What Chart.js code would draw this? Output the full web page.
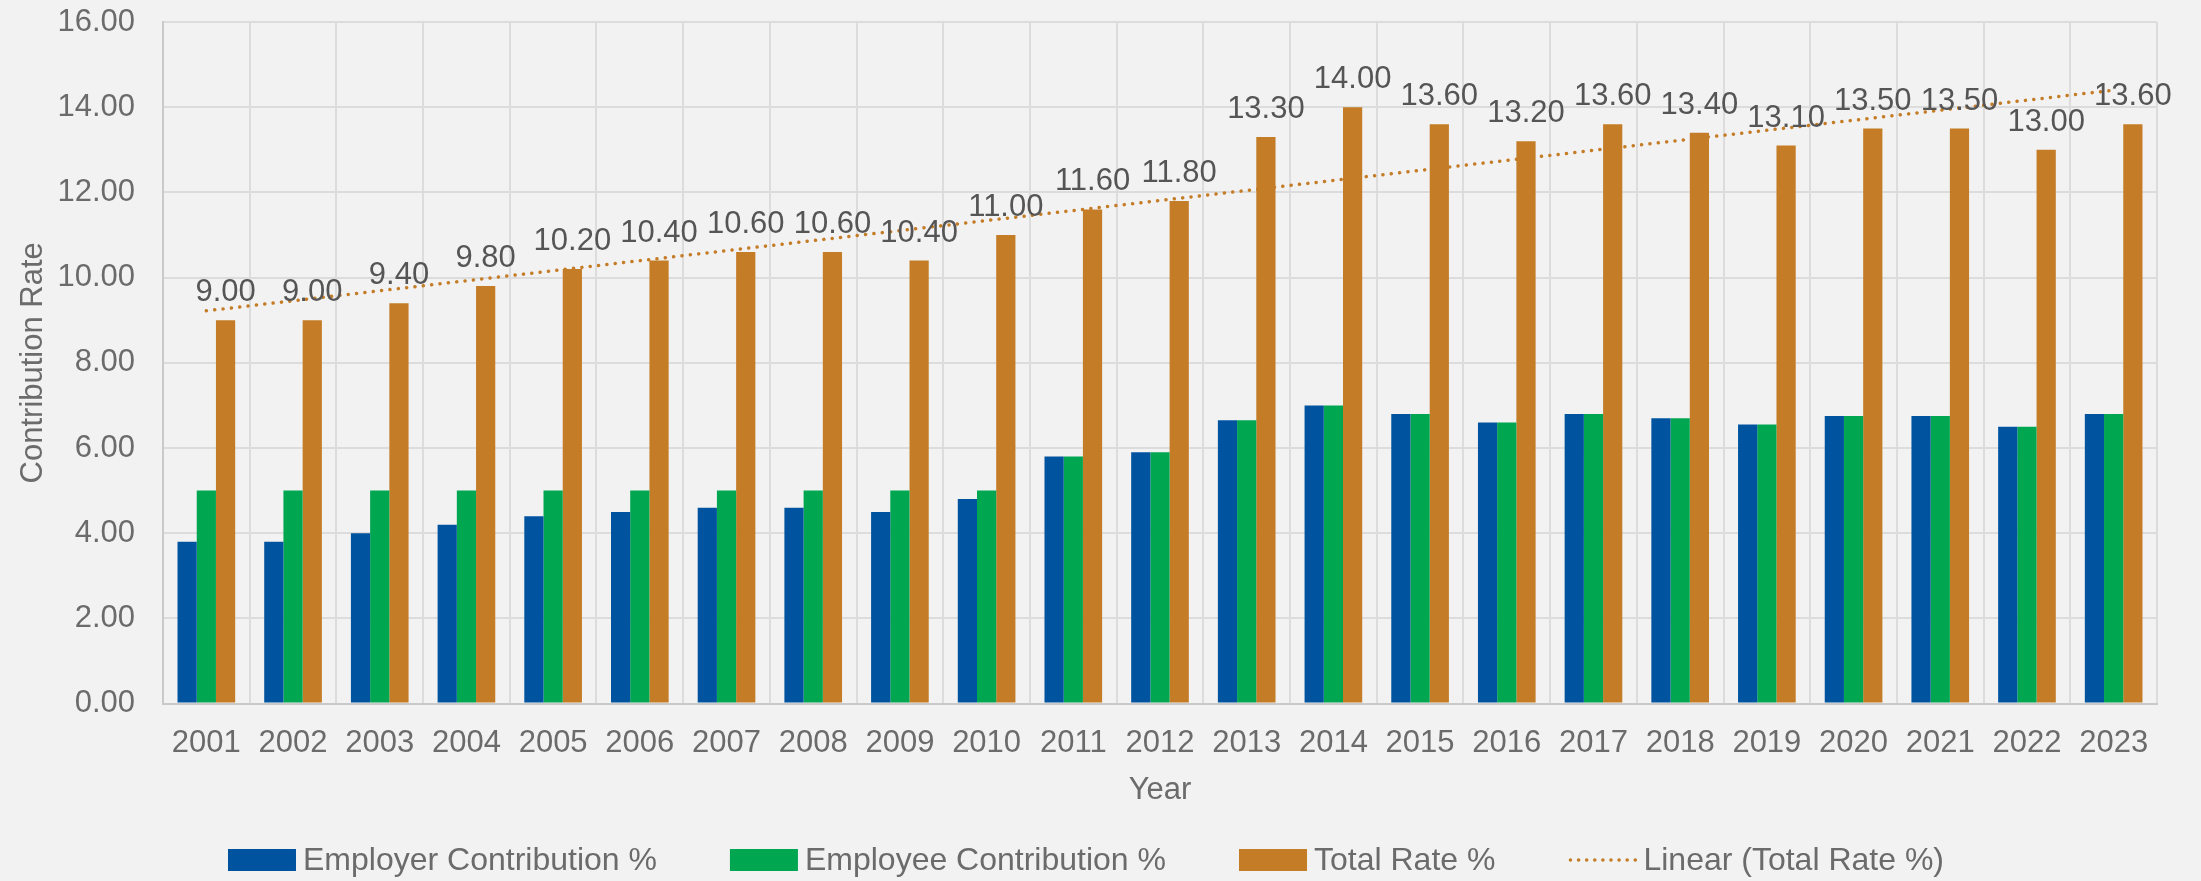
<!DOCTYPE html>
<html>
<head>
<meta charset="utf-8">
<script src="https://cdn.jsdelivr.net/npm/chart.js@4.4.1/dist/chart.umd.min.js"></script>
<style>
    html, body { margin: 0; padding: 0; background: #f2f2f2; }
    #chart { display: block; }
</style>
</head>
<body>
<canvas id="chart" width="2201" height="881"></canvas>
<script>
// 数据
const years = ['2001', '2002', '2003', '2004', '2005', '2006', '2007', '2008', '2009', '2010', '2011', '2012',
    '2013', '2014', '2015', '2016', '2017', '2018', '2019', '2020', '2021', '2022', '2023'];
const employerRate = [3.8, 3.8, 4.0, 4.2, 4.4, 4.5, 4.6, 4.6, 4.5, 4.8, 5.8, 5.9,
    6.65, 7.0, 6.8, 6.6, 6.8, 6.7, 6.55, 6.75, 6.75, 6.5, 6.8];
const employeeRate = [5.0, 5.0, 5.0, 5.0, 5.0, 5.0, 5.0, 5.0, 5.0, 5.0, 5.8, 5.9,
    6.65, 7.0, 6.8, 6.6, 6.8, 6.7, 6.55, 6.75, 6.75, 6.5, 6.8];
const totalRate = [9.0, 9.0, 9.4, 9.8, 10.2, 10.4, 10.6, 10.6, 10.4, 11.0, 11.6, 11.8,
    13.3, 14.0, 13.6, 13.2, 13.6, 13.4, 13.1, 13.5, 13.5, 13.0, 13.6];
// 趋势线两端
const trendStart = 9.22;
const trendEnd = 14.40;
const yMin = 0, yMax = 16, yStep = 2;

const FONT = "'Liberation Sans', Arial, sans-serif";
const TEXT = '#6b6b6b';
const LABEL = '#555555';
const BLUE = '#00549f';
const GREEN = '#00a650';
const ORANGE = '#c47c26';

const trendData = years.map((_, i) => i === 0 ? trendStart : (i === years.length - 1 ? trendEnd : null));

// 总费率柱顶标签
const totalLabels = {
    id: 'totalLabels',
    afterDatasetsDraw(chart) {
        const meta = chart.getDatasetMeta(2);
        const ctx = chart.ctx;
        ctx.save();
        ctx.font = `31px ${FONT}`;
        ctx.fillStyle = LABEL;
        ctx.textAlign = 'center';
        ctx.textBaseline = 'alphabetic';
        meta.data.forEach((bar, i) => {
            ctx.fillText(totalRate[i].toFixed(2), bar.x, bar.y - 19);
        });
        ctx.restore();
    }
};

// 底部图例
const bottomLegend = {
    id: 'bottomLegend',
    afterDraw(chart) {
        const ctx = chart.ctx;
        ctx.save();
        ctx.font = `32px ${FONT}`;
        ctx.textBaseline = 'middle';
        const boxW = 68, boxH = 22, textGap = 7, itemGap = 73;
        const items = chart.data.datasets.map(ds => ({
            text: ds.label,
            color: ds.type === 'line' ? ds.borderColor : ds.backgroundColor,
            line: ds.type === 'line',
            width: boxW + textGap + ctx.measureText(ds.label).width
        }));
        const total = items.reduce((s, it) => s + it.width, 0) + itemGap * (items.length - 1);
        let x = 1086 - total / 2;
        const y = 860;
        items.forEach(it => {
            if (it.line) {
                ctx.strokeStyle = it.color;
                ctx.lineWidth = 3.5;
                ctx.lineCap = 'round';
                ctx.setLineDash([0.1, 8]);
                ctx.beginPath();
                ctx.moveTo(x + 2, y);
                ctx.lineTo(x + boxW, y);
                ctx.stroke();
                ctx.setLineDash([]);
            } else {
                ctx.fillStyle = it.color;
                ctx.fillRect(x, y - boxH / 2, boxW, boxH);
            }
            ctx.fillStyle = TEXT;
            ctx.fillText(it.text, x + boxW + textGap, y + 1);
            x += it.width + itemGap;
        });
        ctx.restore();
    }
};

const ctx = document.getElementById('chart');
new Chart(ctx, {
    data: {
        labels: years,
        datasets: [
            {
                type: 'bar',
                label: 'Employer Contribution %',
                data: employerRate,
                backgroundColor: BLUE,
                borderWidth: 0,
                categoryPercentage: 0.665,
                barPercentage: 1.0,
                order: 1
            },
            {
                type: 'bar',
                label: 'Employee Contribution %',
                data: employeeRate,
                backgroundColor: GREEN,
                borderWidth: 0,
                categoryPercentage: 0.665,
                barPercentage: 1.0,
                order: 1
            },
            {
                type: 'bar',
                label: 'Total Rate %',
                data: totalRate,
                backgroundColor: ORANGE,
                borderWidth: 0,
                categoryPercentage: 0.665,
                barPercentage: 1.0,
                order: 1
            },
            {
                type: 'line',
                label: 'Linear (Total Rate %)',
                data: trendData,
                borderColor: ORANGE,
                borderWidth: 3.5,
                borderDash: [0.1, 8.3],
                borderCapStyle: 'round',
                pointRadius: 0,
                spanGaps: true,
                fill: false,
                order: 2
            }
        ]
    },
    options: {
        responsive: false,
        animation: false,
        devicePixelRatio: 1,
        layout: {
            padding: { left: 15, right: 44, top: 0, bottom: 72 }
        },
        plugins: {
            legend: { display: false },
            tooltip: { enabled: false }
        },
        scales: {
            x: {
                grid: { color: '#dcdcdc', lineWidth: 2, offset: true, drawTicks: false },
                border: { color: '#c9c9c9', width: 2 },
                ticks: { font: { family: FONT, size: 31 }, color: TEXT, padding: 21 },
                title: {
                    display: true,
                    text: 'Year',
                    font: { family: FONT, size: 31 },
                    color: TEXT,
                    padding: { top: -11, bottom: 0 }
                }
            },
            y: {
                min: yMin,
                max: yMax,
                afterFit: scale => {
                    scale.width = 148;
                    scale.paddingTop = 22;
                    scale.paddingBottom = 0;
                },
                grid: { color: '#dcdcdc', lineWidth: 2, drawTicks: false },
                border: { color: '#c9c9c9', width: 2 },
                ticks: {
                    stepSize: yStep,
                    font: { family: FONT, size: 31 },
                    color: TEXT,
                    padding: 28,
                    callback: v => Number(v).toFixed(2)
                },
                title: {
                    display: true,
                    text: 'Contribution Rate',
                    font: { family: FONT, size: 31 },
                    color: TEXT,
                    padding: { top: 0, bottom: 0 }
                }
            }
        }
    },
    plugins: [totalLabels, bottomLegend]
});
</script>
</body>
</html>
